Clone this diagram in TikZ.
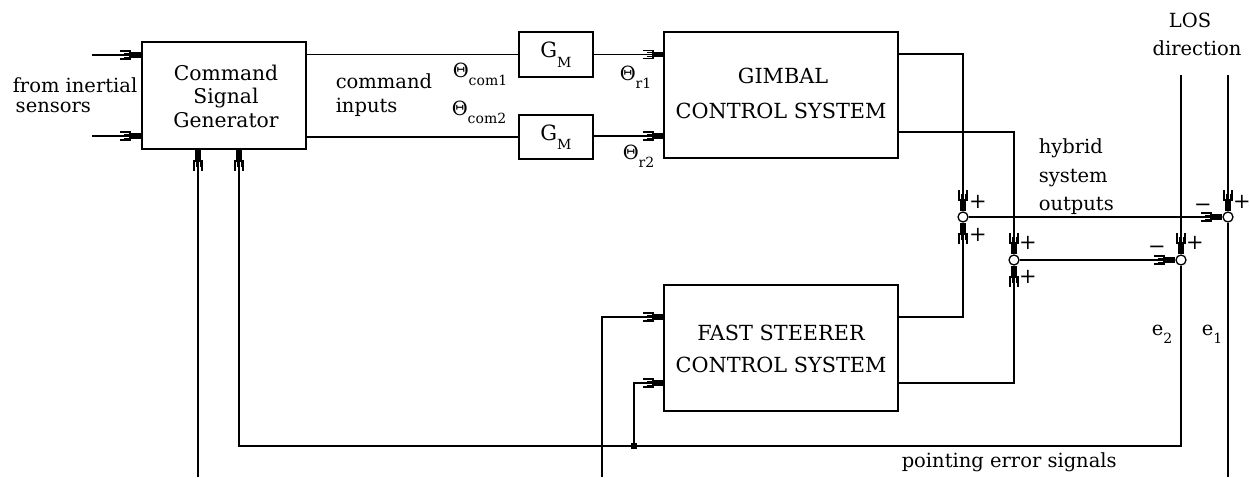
\documentclass[tikz,border=0pt]{standalone}
\usepackage{fontspec}
\setmainfont{DejaVu Serif}
\usetikzlibrary{decorations.markings}
\newcommand{\sbs}[1]{\raisebox{-0.45em}{\fontsize{14}{14}\selectfont #1}}
\begin{document}
\begin{tikzpicture}[x=1pt,y=-1pt,
  every node/.style={font=\fontsize{19.5}{22}\selectfont},
  line width=1.5pt,
  box/.style={draw,rectangle,inner sep=0pt,align=center},
  capt/.style={anchor=base,inner sep=0pt,font=\fontsize{20.8}{24}\selectfont},
  sumj/.style={draw,circle,fill=white,minimum size=10pt,inner sep=0pt,line width=1.3pt},
  arr/.style={postaction={decorate,decoration={markings,mark=at position 1 with {
      \fill (-12pt,-2.8pt) rectangle (0pt,2.8pt);
      \draw[line width=1.1pt] (-21pt,-4pt) -- (-11pt,-4pt) -- (-11pt,4pt) -- (-21pt,4pt);
      \draw[line width=1pt] (-17pt,-2pt) -- (-11pt,-2pt) (-17pt,2pt) -- (-11pt,2pt);
  }}}},
  lbl/.style={anchor=base west,inner sep=0pt},
  sgn/.style={inner sep=0pt,font=\fontsize{21}{21}\selectfont}]
\useasboundingbox (0,0) rectangle (1250,477);
% blocks
\node[box,minimum width=164pt,minimum height=107pt] (csg) at (224,95.5) {};
\node[box,minimum width=74pt,minimum height=45pt] (gm1) at (556,54.5) {\fontsize{21}{21}\selectfont G\sbs{M}};
\node[box,minimum width=74pt,minimum height=44pt] (gm2) at (556,137) {\fontsize{21}{21}\selectfont G\sbs{M}};
\node[box,minimum width=234pt,minimum height=126pt] (gcs) at (781,95) {};
\node[box,minimum width=234pt,minimum height=126pt] (fss) at (781,348) {};
% summing junctions
\node[sumj] (s1) at (963,217) {};
\node[sumj] (s2) at (1014,260) {};
\node[sumj] (s3) at (1181,260) {};
\node[sumj] (s4) at (1228,217) {};
% free ends
\coordinate (in1) at (92,55);
\coordinate (in2) at (92,136);
\coordinate (fb1) at (198,477);
\coordinate (fb2) at (602,477);
\coordinate (los2) at (1181,75);
\coordinate (los1) at (1228,75);
\coordinate (e1end) at (1228,477);
\coordinate (ecorner) at (1181,446);
\coordinate (go1) at (898,54);
\coordinate (go2) at (898,132);
\coordinate (fo1) at (898,317);
\coordinate (fo2) at (898,383);
\coordinate (fi1) at (664,317);
\coordinate (fi2) at (664,383);
\coordinate (jn) at (634,446);
\coordinate (c1) at (306,54.5);
\coordinate (c2) at (306,137);
\coordinate (g1) at (664,54.5);
\coordinate (g2) at (664,136);
% connectors
\draw[arr] (in1) -- (in1 -| csg.west);
\draw[arr] (in2) -- (in2 -| csg.west);
\draw (c1) -- (gm1.west);
\draw (c2) -- (gm2.west);
\draw[arr] (gm1.east) -- (g1);
\draw[arr] (gm2.east |- g2) -- (g2);
\draw[arr] (go1) -| (s1.north);
\draw[arr] (go2) -| (s2.north);
\draw[arr] (fo1) -| (s1.south);
\draw[arr] (fo2) -| (s2.south);
\draw[arr] (s1.east) -- (s4.west);
\draw[arr] (s2.east) -- (s3.west);
\draw[arr] (los2) -- (s3.north);
\draw[arr] (los1) -- (s4.north);
\draw (s4.south) -- (e1end);
\draw[arr] (s3.south) -- (ecorner) -- (ecorner -| 239,0) -- (csg.south -| 239,0);
\draw[arr] (fb1) -- (fb1 |- csg.south);
\draw[arr] (fb2) |- (fi1);
\draw[arr] (jn) |- (fi2);
\fill (jn) ++(-3pt,-3pt) rectangle ++(6pt,6pt);
% texts
\node[lbl] (t1) at (12,92) {from inertial};
\node[lbl] (t2) at (15,112) {sensors};
\node[anchor=base,inner sep=0pt,font=\fontsize{20.3}{24}\selectfont] (t3) at (226,80) {Command};
\node[anchor=base,inner sep=0pt,font=\fontsize{20.3}{24}\selectfont] (t4) at (226,103) {Signal};
\node[anchor=base,inner sep=0pt,font=\fontsize{20.3}{24}\selectfont] (t5) at (226,127) {Generator};
\node[lbl] (t6) at (335,88) {command};
\node[lbl] (t7) at (335,112) {inputs};
\node[lbl] (t8) at (452,77) {Θ\sbs{com1}};
\node[lbl] (t9) at (451,115) {Θ\sbs{com2}};
\node[lbl] (t10) at (619,80) {Θ\sbs{r1}};
\node[lbl] (t11) at (622,159) {Θ\sbs{r2}};
\node[capt] (t12) at (783,83) {GIMBAL};
\node[capt] (t13) at (781,118) {CONTROL SYSTEM};
\node[capt] (t14) at (781,340) {FAST STEERER};
\node[capt] (t15) at (781,372) {CONTROL SYSTEM};
\node[lbl] (t16) at (1038,153) {hybrid};
\node[lbl] (t17) at (1038,182) {system};
\node[lbl] (t18) at (1038,210) {outputs};
\node[lbl] (t19) at (901,467) {pointing error signals};
\node[anchor=base,inner sep=0pt] (t20) at (1190,27) {LOS};
\node[anchor=base,inner sep=0pt] (t21) at (1197,55) {direction};
\node[lbl] (t22) at (1151,335) {e\sbs{2}};
\node[lbl] (t23) at (1201,335) {e\sbs{1}};
% signs
\node[sgn] (p1) at (978,202) {+};
\node[sgn] (p2) at (978,235) {+};
\node[sgn] (p3) at (1028,243) {+};
\node[sgn] (p4) at (1028,277) {+};
\node[sgn] (p5) at (1195,243) {+};
\node[sgn] (p6) at (1242,202) {+};
\node[sgn] (m1) at (1157,250) {−};
\node[sgn] (m2) at (1203,208) {−};
\end{tikzpicture}
\end{document}
